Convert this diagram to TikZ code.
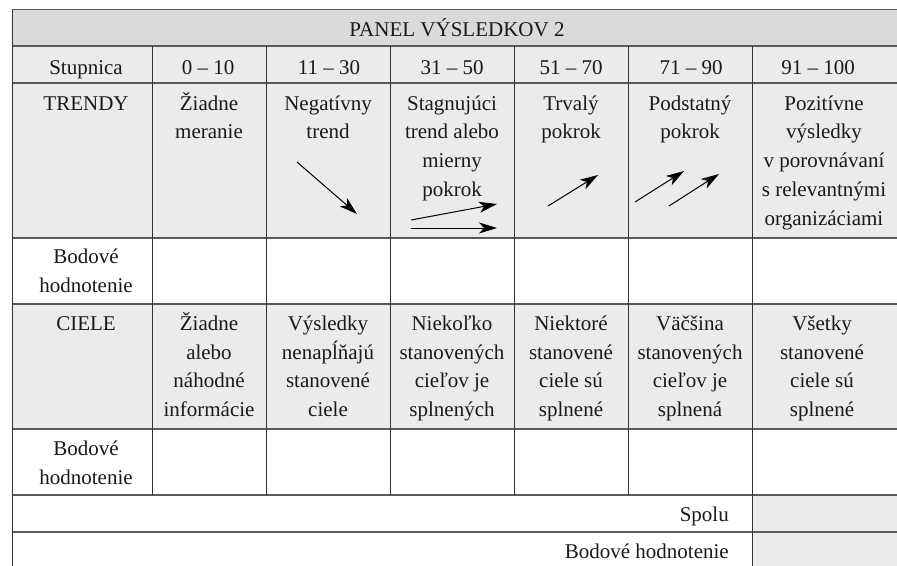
\documentclass[tikz,border=0pt]{standalone}
\usepackage{fontspec}
\setmainfont{Liberation Serif}
\usetikzlibrary{arrows.meta}
\definecolor{bandgray}{HTML}{DADADA}
\definecolor{cellgray}{HTML}{EBEBED}
\definecolor{rulegray}{HTML}{5A5A5A}
\begin{document}
\begin{tikzpicture}[x=1pt,y=-1pt,
  cell/.style={align=center,anchor=base,inner sep=0pt,text=black!90,font=\fontsize{21}{28.8}\selectfont},
  hrule/.style={draw=rulegray,line width=1.3pt},
  vrule/.style={draw=black!80,line width=1pt},
  trendarrow/.style={line width=1pt,-{Stealth[length=18pt,width=11pt,inset=5pt]}}]
\useasboundingbox (0,0) rectangle (897,565);
\clip (0,0) rectangle (897,565);
% backgrounds
\fill[bandgray] (12,9.5) rectangle (900,46);
\fill[cellgray] (12,46) rectangle (900,238);
\fill[cellgray] (12,304) rectangle (900,429);
\fill[cellgray] (752,495) rectangle (900,570);
% horizontal rules
\foreach \y in {9.5,46,83,238,304,429,495,532}
  \draw[hrule] (12,\y) -- (900,\y);
% vertical rules
\draw[vrule] (12,9.5) -- (12,570);
\foreach \x in {152,266,390,514,628}
  \draw[vrule] (\x,46) -- (\x,495);
\draw[vrule] (752,46) -- (752,570);
% title (node base = baseline of the last line)
\node[cell] (title) at (457,36.7) {PANEL VÝSLEDKOV 2};
% header row
\node[cell] (h1) at (86,74) {Stupnica};
\node[cell] (h2) at (208,74) {0 – 10};
\node[cell] (h3) at (329,74) {11 – 30};
\node[cell] (h4) at (452,74) {31 – 50};
\node[cell] (h5) at (571,74) {51 – 70};
\node[cell] (h6) at (691,74) {71 – 90};
\node[cell] (h7) at (818,74) {91 – 100};
% trends row
\node[cell] (t1) at (86,110) {TRENDY};
\node[cell] (t2) at (209,138.8) {Žiadne\\meranie};
\node[cell] (t3) at (328,138.8) {Negatívny\\trend};
\node[cell] (t4) at (452,196.4) {Stagnujúci\\trend alebo\\mierny\\pokrok};
\node[cell] (t5) at (571,138.8) {Trvalý\\pokrok};
\node[cell] (t6) at (690,138.8) {Podstatný\\pokrok};
\node[cell] (t7) at (824,225.2) {Pozitívne\\výsledky\\v porovnávaní\\s relevantnými\\organizáciami};
% trend arrows
\draw[trendarrow] (297,162) -- (357,214);
\draw[trendarrow] (411,220) -- (497,204);
\draw[trendarrow] (411,228) -- (497,228);
\draw[trendarrow] (548,206) -- (598,175);
\draw[trendarrow] (635,202) -- (684,171);
\draw[trendarrow] (669,206) -- (719,174);
% first score row
\node[cell] (s1) at (86,292.5) {Bodové\\hodnotenie};
% goals row
\node[cell] (g1) at (86,330) {CIELE};
\node[cell] (g2) at (209,416.6) {Žiadne\\alebo\\náhodné\\informácie};
\node[cell] (g3) at (328,416.6) {Výsledky\\nenapĺňajú\\stanovené\\ciele};
\node[cell] (g4) at (452,416.6) {Niekoľko\\stanovených\\cieľov je\\splnených};
\node[cell] (g5) at (571,416.6) {Niektoré\\stanovené\\ciele sú\\splnené};
\node[cell] (g6) at (690,416.6) {Väčšina\\stanovených\\cieľov je\\splnená};
\node[cell] (g7) at (822,416.6) {Všetky\\stanovené\\ciele sú\\splnené};
% second score row
\node[cell] (s2) at (86,484.5) {Bodové\\hodnotenie};
% totals
\node[cell,anchor=base east] (total) at (729,521.7) {Spolu};
\node[cell,anchor=base east] (score) at (729,558) {Bodové hodnotenie};
\end{tikzpicture}
\end{document}
